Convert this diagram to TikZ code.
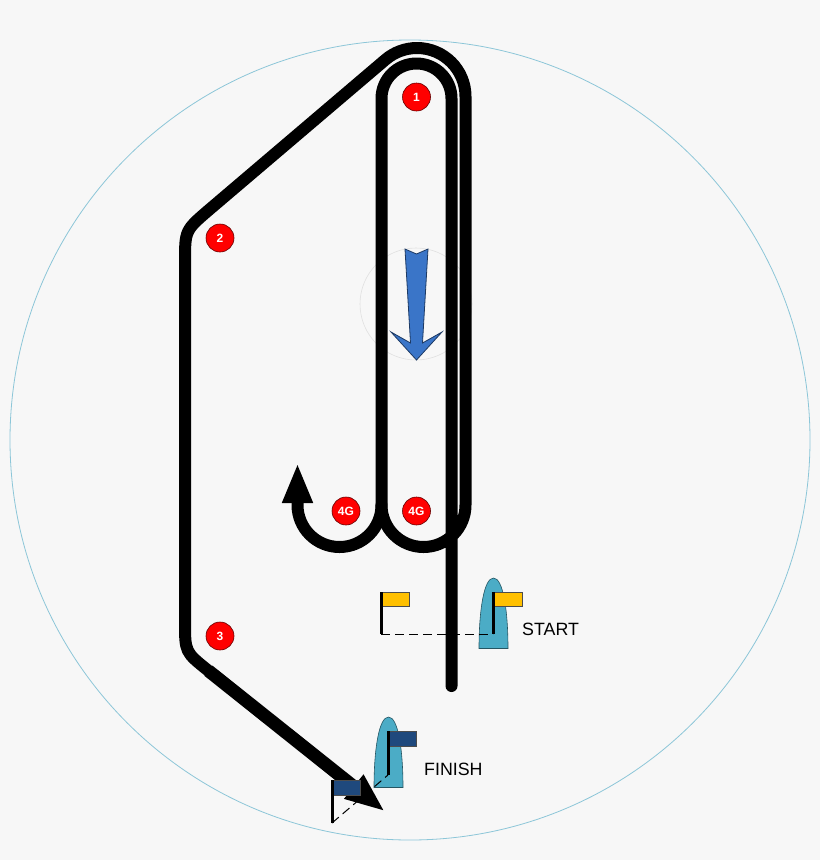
\documentclass[tikz,border=0pt]{standalone}
\usepackage{fontspec}
\setmainfont{Liberation Sans}
\usetikzlibrary{arrows.meta}

\definecolor{pagegrey}{HTML}{F7F7F7}
\definecolor{ringblue}{HTML}{8CC6D8}
\definecolor{windblue}{HTML}{3A75C8}
\definecolor{boatblue}{HTML}{4BACC6}
\definecolor{flagyellow}{HTML}{FFC000}
\definecolor{flagnavy}{HTML}{1F497D}

\tikzset{
	track/.style={line width=12pt,line join=round,line cap=round},
	trackend/.style={track,-{Triangle[width=28pt,length=40pt]}},
	buoy/.style={circle,draw=black!60!red,fill=red,line width=0.6pt,minimum size=28pt,inner sep=0pt,text=white,font=\fontsize{12}{14}\selectfont\bfseries},
	caption/.style={anchor=west,inner sep=0pt,font=\fontsize{17.8}{20}\selectfont},
	pole/.style={line width=3pt},
	flagcloth/.style={draw=black!70,line width=0.6pt},
	boathull/.style={fill=boatblue,draw=black!50!boatblue,line width=0.6pt}
}

\begin{document}
\begin{tikzpicture}[x=1pt,y=-1pt]
	% Page and course area
	\fill[pagegrey] (0,0) rectangle (820,860);
	\draw[ringblue,line width=0.8pt] (410,440) circle (400pt);
	\draw[black!12,line width=0.6pt] (416,304) circle (56pt);

	% Wind arrow
	\draw[fill=windblue,draw=black!50!windblue,line width=0.8pt] (405,249) -- (416.5,254) -- (428,249) -- (422.5,343) -- (442,332) -- (416.5,360) -- (391,332) -- (410.5,343) -- cycle;

	% Boats
	\draw[boathull] (479,648.5) -- (508,648.5) .. controls (508,610) and (503,578) .. (493.5,578) .. controls (484,578) and (479,610) .. cycle;
	\draw[boathull] (374,787.5) -- (403,787.5) .. controls (403,749) and (398,717) .. (388.5,717) .. controls (379,717) and (374,749) .. cycle;

	% Course
	\draw[track] (451.5,686) -- (451.5,98.5) arc[start angle=0,end angle=-180,radius=35] -- (381.5,505)
		arc[start angle=180,end angle=0,radius=42] -- (465.5,96.5) arc[start angle=0,end angle=-130.5,radius=48.5]
		-- (209.3,209.6) .. controls (185,230.4) .. (185,262) -- (185,622) .. controls (185,652) .. (208.4,670.7);
	\draw[trackend,line width=13pt,line cap=butt] (208.4,670.7) -- (385,811.5);
	\draw[trackend] (381.5,505) arc[start angle=0,end angle=180,radius=42] -- (297.5,463);

	% Start line
	\coordinate (startpin) at (381,634);
	\coordinate (startboat) at (493,634);
	\draw[dashed,line width=1pt,dash pattern=on 9pt off 5pt] (startpin) -- (startboat);
	\draw[flagcloth,fill=flagyellow] (381,592) rectangle (409.5,606.5);
	\draw[flagcloth,fill=flagyellow] (493,592) rectangle (522,606.5);
	\draw[pole] (381,592) -- (startpin);
	\draw[pole] (493,592) -- (startboat);
	\node[caption] (starttext) at (522,629.5) {START};

	% Finish line
	\coordinate (finishpin) at (332,823);
	\coordinate (finishboat) at (388,775);
	\draw[dashed,line width=1pt,dash pattern=on 9pt off 5pt] (finishpin) -- (finishboat);
	\draw[flagcloth,fill=flagnavy] (388,731) rectangle (416.5,746);
	\draw[flagcloth,fill=flagnavy] (332,780) rectangle (360,795);
	\draw[pole] (388,731) -- (finishboat);
	\draw[pole] (332,780) -- (finishpin);
	\node[caption] (finishtext) at (424,769.5) {FINISH};

	% Marks
	\node[buoy] (markone) at (416.5,97) {1};
	\node[buoy] (marktwo) at (220,238) {2};
	\node[buoy] (markthree) at (220,636) {3};
	\node[buoy] (gateleft) at (346,511) {4G};
	\node[buoy] (gateright) at (416.5,511) {4G};
\end{tikzpicture}
\end{document}
